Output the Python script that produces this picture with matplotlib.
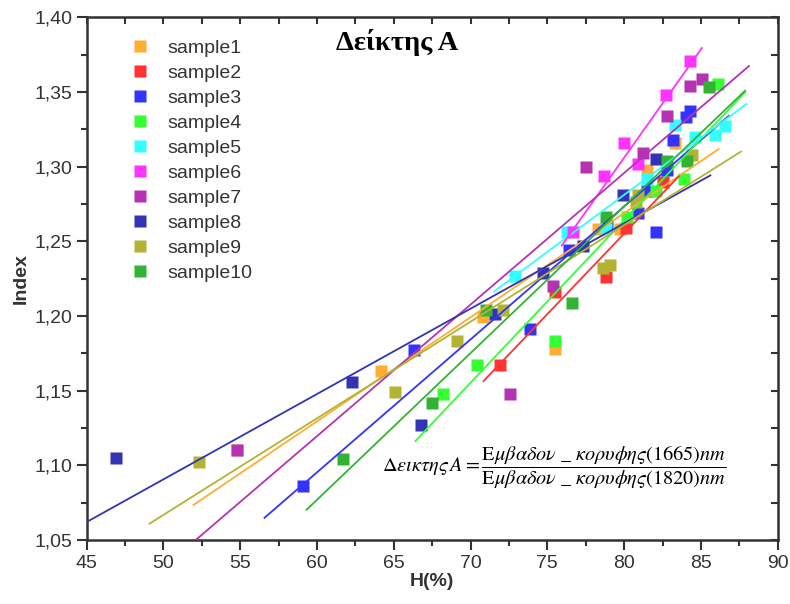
import numpy as np
import matplotlib.pyplot as plt
from matplotlib.ticker import MultipleLocator, FuncFormatter

plt.rcParams['font.family'] = ['Liberation Sans', 'DejaVu Sans']
plt.rcParams['mathtext.fontset'] = 'stix'

# data: H(%) and Index for each sample
s1_x = [54.8, 64.2, 70.8, 75.5, 78.3, 79.7, 81.5, 83.3]
s1_y = [1.110, 1.163, 1.199, 1.178, 1.258, 1.258, 1.298, 1.316]
s2_x = [71.9, 75.5, 78.8, 80.1, 82.5]
s2_y = [1.167, 1.216, 1.226, 1.259, 1.290]
s3_x = [59.1, 66.3, 73.9, 76.4, 78.9, 80.9, 81.5, 82.1, 82.8, 83.2, 84.0, 84.3]
s3_y = [1.086, 1.177, 1.191, 1.244, 1.260, 1.269, 1.284, 1.256, 1.298, 1.318, 1.333, 1.337]
s4_x = [68.2, 70.4, 75.5, 80.2, 82.1, 83.9, 86.1]
s4_y = [1.148, 1.167, 1.183, 1.266, 1.284, 1.292, 1.355]
s5_x = [72.9, 76.3, 78.8, 81.5, 83.3, 84.6, 85.9, 86.6]
s5_y = [1.227, 1.256, 1.259, 1.292, 1.328, 1.320, 1.321, 1.327]
s6_x = [76.7, 78.7, 80.0, 80.9, 82.7, 84.3]
s6_y = [1.256, 1.294, 1.316, 1.302, 1.348, 1.371]
s7_x = [54.8, 72.6, 75.4, 77.5, 81.2, 82.8, 84.3, 85.1]
s7_y = [1.110, 1.148, 1.220, 1.300, 1.309, 1.334, 1.354, 1.359]
s8_x = [46.9, 62.3, 66.8, 71.6, 74.7, 77.3, 79.9, 82.1]
s8_y = [1.105, 1.156, 1.127, 1.201, 1.229, 1.247, 1.281, 1.305]
s9_x = [52.3, 65.1, 69.1, 72.1, 78.6, 79.1, 80.8, 80.9, 84.4]
s9_y = [1.102, 1.149, 1.183, 1.204, 1.232, 1.234, 1.276, 1.281, 1.308]
s10_x = [61.7, 67.5, 71.0, 76.6, 78.8, 82.8, 84.1, 85.5]
s10_y = [1.104, 1.142, 1.204, 1.209, 1.266, 1.304, 1.304, 1.353]

# linear fit lines (slope, intercept)
fit_slope = [0.006968, 0.010787, 0.0089, 0.01088, 0.007636, 0.014505, 0.008809, 0.005714, 0.006468, 0.009825]
fit_icpt = [0.7114, 0.3922, 0.5613, 0.3937, 0.6702, 0.1456, 0.5910, 0.8049, 0.7434, 0.4874]

labels = ['sample1', 'sample2', 'sample3', 'sample4', 'sample5',
          'sample6', 'sample7', 'sample8', 'sample9', 'sample10']
colors = ['#FFAD33', '#FF3333', '#3333FF', '#33FF33', '#33FFFF',
          '#FF33FF', '#B333B3', '#3333B3', '#B3B333', '#33B333']

xs = [s1_x, s2_x, s3_x, s4_x, s5_x, s6_x, s7_x, s8_x, s9_x, s10_x]
ys = [s1_y, s2_y, s3_y, s4_y, s5_y, s6_y, s7_y, s8_y, s9_y, s10_y]

fig = plt.figure(figsize=(7.9, 6.04), dpi=100)
ax = fig.add_axes([0.1097, 0.106, 0.8747, 0.8654])

for x, y, c, lab in zip(xs, ys, colors, labels):
    ax.plot(x, y, 's', ms=8.6, color=c, mec='none', label=lab, zorder=2)

# fit lines span the data range plus 10% on each side
for x, c, m, b in zip(xs, colors, fit_slope, fit_icpt):
    r = max(x) - min(x)
    xx = np.array([min(x) - 0.1 * r, max(x) + 0.1 * r])
    ax.plot(xx, m * xx + b, '-', color=c, lw=1.3, zorder=3)

ax.set_xlim(45, 90)
ax.set_ylim(1.05, 1.40)
ax.xaxis.set_major_locator(MultipleLocator(5))
ax.xaxis.set_minor_locator(MultipleLocator(2.5))
ax.yaxis.set_major_locator(MultipleLocator(0.05))
ax.yaxis.set_minor_locator(MultipleLocator(0.025))
ax.yaxis.set_major_formatter(FuncFormatter(lambda v, p: f'{v:.2f}'.replace('.', ',')))
ax.tick_params(which='major', direction='out', length=7, width=1.5, labelsize=14,
               colors='#333333', labelcolor='#333333')
ax.tick_params(which='minor', direction='out', length=4, width=1.5, colors='#333333')
for sp in ax.spines.values():
    sp.set_linewidth(1.8)
    sp.set_color('#333333')

top = ax.secondary_xaxis('top')
top.xaxis.set_major_locator(MultipleLocator(2.5))
top.tick_params(direction='in', length=5, width=1.5, labeltop=False, colors='#333333')
right = ax.secondary_yaxis('right')
right.yaxis.set_major_locator(MultipleLocator(0.025))
right.tick_params(direction='in', length=5, width=1.5, labelright=False, colors='#333333')

ax.set_xlabel('H(%)', fontsize=14, fontweight='bold', color='#333333', labelpad=1)
ax.set_ylabel('Index', fontsize=14, fontweight='bold', color='#333333', labelpad=3)

ax.legend(loc='upper left', bbox_to_anchor=(0.038, 0.992), frameon=False, fontsize=14,
          handlelength=1.0, handletextpad=0.9, labelspacing=0.38, markerscale=1.0,
          labelcolor='#333333')

fig.text(0.503, 0.93, 'Δείκτης Α', fontsize=20.5, fontweight='bold',
         family=['Liberation Serif', 'DejaVu Serif'], ha='center', va='center')

formula = (r'$\Delta\varepsilon\iota\kappa\tau\eta\varsigma\, A = '
           r'\dfrac{\mathrm{E}\mu\beta\alpha\delta o\nu\ \_\ \kappa o\rho\upsilon\phi\eta\varsigma(1665)nm}'
           r'{\mathrm{E}\mu\beta\alpha\delta o\nu\ \_\ \kappa o\rho\upsilon\phi\eta\varsigma(1820)nm}$')
fig.text(0.701, 0.225, formula, fontsize=14.6, ha='center', va='center')

fig.savefig('out.png', dpi=100)
